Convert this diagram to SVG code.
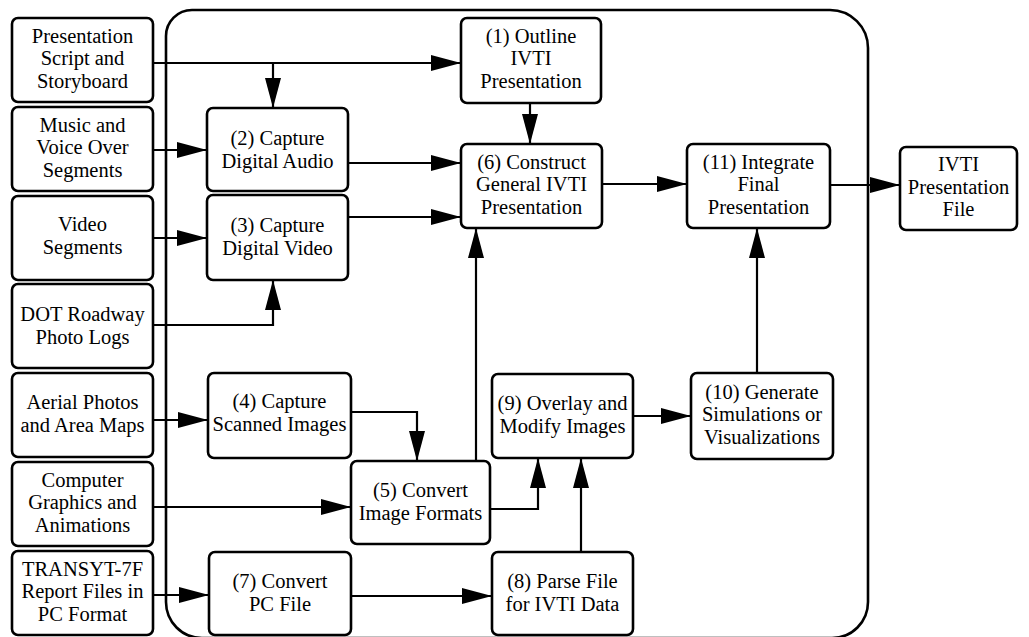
<svg xmlns="http://www.w3.org/2000/svg" width="1029" height="637" viewBox="0 0 1029 637">
  <style>
    .box { fill: #fff; stroke: #000; stroke-width: 2.6; }
    .frame { fill: none; stroke: #000; stroke-width: 2.6; }
    .lbl { font-family: 'Times New Roman', 'Liberation Serif', 'DejaVu Serif', serif; font-size: 20.5px; fill: #000; text-anchor: middle; }
    .wire { fill: none; stroke: #000; stroke-width: 2.2; marker-end: url(#head); }
  </style>
  <defs>
    <marker id="head" markerUnits="userSpaceOnUse" markerWidth="30" markerHeight="16" refX="30" refY="8" orient="auto">
      <path d="M0,0 L30,8 L0,16 Z" fill="#000"/>
    </marker>
  </defs>
  <rect width="1029" height="637" fill="#fff"/>

  <!-- process boundary -->
  <path class="frame" d="M192,10 H830 A38,38 0 0 1 868,48 V602 A36,36 0 0 1 832,638 H202 A36,36 0 0 1 166,602 V36 A26,26 0 0 1 192,10 Z"/>

  <!-- connectors -->
  <g id="connectors">
    <path class="wire" d="M153,63 H461"/>
    <path class="wire" d="M273,63 V108"/>
    <path class="wire" d="M153,150 H207"/>
    <path class="wire" d="M348,163 H461"/>
    <path class="wire" d="M153,238 H207"/>
    <path class="wire" d="M348,217 H461"/>
    <path class="wire" d="M153,325 H273 V280"/>
    <path class="wire" d="M530,103 V144"/>
    <path class="wire" d="M602,184 H687"/>
    <path class="wire" d="M830,185 H900"/>
    <path class="wire" d="M476,461 V228"/>
    <path class="wire" d="M153,420 H208"/>
    <path class="wire" d="M351,412 H417 V461"/>
    <path class="wire" d="M153,507 H351"/>
    <path class="wire" d="M490,509 H538 V458"/>
    <path class="wire" d="M153,595 H209"/>
    <path class="wire" d="M351,596 H492"/>
    <path class="wire" d="M581,552 V458"/>
    <path class="wire" d="M633,416 H691"/>
    <path class="wire" d="M757,373 V228"/>
  </g>

  <!-- source inputs -->
  <g id="src-script">
    <rect class="box" x="12" y="18" width="141" height="84" rx="6"/>
    <text class="lbl"><tspan x="82.5" y="42.5">Presentation</tspan><tspan x="82.5" y="65">Script and</tspan><tspan x="82.5" y="87.5">Storyboard</tspan></text>
  </g>
  <g id="src-music">
    <rect class="box" x="12" y="107" width="141" height="84" rx="6"/>
    <text class="lbl"><tspan x="82.5" y="131.5">Music and</tspan><tspan x="82.5" y="154">Voice Over</tspan><tspan x="82.5" y="176.5">Segments</tspan></text>
  </g>
  <g id="src-video">
    <rect class="box" x="12" y="196" width="141" height="84" rx="6"/>
    <text class="lbl"><tspan x="82.5" y="231">Video</tspan><tspan x="82.5" y="254">Segments</tspan></text>
  </g>
  <g id="src-photologs">
    <rect class="box" x="12" y="284" width="141" height="84" rx="6"/>
    <text class="lbl"><tspan x="82.5" y="321">DOT Roadway</tspan><tspan x="82.5" y="344">Photo Logs</tspan></text>
  </g>
  <g id="src-aerial">
    <rect class="box" x="12" y="373" width="141" height="84" rx="6"/>
    <text class="lbl"><tspan x="82.5" y="409">Aerial Photos</tspan><tspan x="82.5" y="432">and Area Maps</tspan></text>
  </g>
  <g id="src-graphics">
    <rect class="box" x="12" y="462" width="141" height="84" rx="6"/>
    <text class="lbl"><tspan x="82.5" y="486.5">Computer</tspan><tspan x="82.5" y="509">Graphics and</tspan><tspan x="82.5" y="531.5">Animations</tspan></text>
  </g>
  <g id="src-transyt">
    <rect class="box" x="12" y="551" width="141" height="84" rx="6"/>
    <text class="lbl"><tspan x="82.5" y="575.5">TRANSYT-7F</tspan><tspan x="82.5" y="598">Report Files in</tspan><tspan x="82.5" y="620.5">PC Format</tspan></text>
  </g>

  <!-- process steps -->
  <g id="step1">
    <rect class="box" x="461" y="18" width="140" height="85" rx="6"/>
    <text class="lbl"><tspan x="531" y="42.5">(1) Outline</tspan><tspan x="531" y="65">IVTI</tspan><tspan x="531" y="87.5">Presentation</tspan></text>
  </g>
  <g id="step2">
    <rect class="box" x="207" y="108" width="141" height="83" rx="6"/>
    <text class="lbl"><tspan x="277.5" y="145">(2) Capture</tspan><tspan x="277.5" y="168">Digital Audio</tspan></text>
  </g>
  <g id="step3">
    <rect class="box" x="207" y="195" width="141" height="85" rx="6"/>
    <text class="lbl"><tspan x="277.5" y="232">(3) Capture</tspan><tspan x="277.5" y="255">Digital Video</tspan></text>
  </g>
  <g id="step4">
    <rect class="box" x="208" y="373" width="143" height="85" rx="6"/>
    <text class="lbl"><tspan x="279.5" y="408">(4) Capture</tspan><tspan x="279.5" y="431">Scanned Images</tspan></text>
  </g>
  <g id="step5">
    <rect class="box" x="351" y="461" width="139" height="83" rx="6"/>
    <text class="lbl"><tspan x="420.5" y="497">(5) Convert</tspan><tspan x="420.5" y="520">Image Formats</tspan></text>
  </g>
  <g id="step6">
    <rect class="box" x="461" y="144" width="141" height="84" rx="6"/>
    <text class="lbl"><tspan x="531.5" y="168.5">(6) Construct</tspan><tspan x="531.5" y="191">General IVTI</tspan><tspan x="531.5" y="213.5">Presentation</tspan></text>
  </g>
  <g id="step7">
    <rect class="box" x="209" y="552" width="142" height="83" rx="6"/>
    <text class="lbl"><tspan x="280" y="588">(7) Convert</tspan><tspan x="280" y="611">PC File</tspan></text>
  </g>
  <g id="step8">
    <rect class="box" x="492" y="552" width="141" height="83" rx="6"/>
    <text class="lbl"><tspan x="562.5" y="588">(8) Parse File</tspan><tspan x="562.5" y="611">for IVTI Data</tspan></text>
  </g>
  <g id="step9">
    <rect class="box" x="492" y="374" width="141" height="84" rx="6"/>
    <text class="lbl"><tspan x="562.5" y="410">(9) Overlay and</tspan><tspan x="562.5" y="433">Modify Images</tspan></text>
  </g>
  <g id="step10">
    <rect class="box" x="691" y="373" width="142" height="86" rx="6"/>
    <text class="lbl"><tspan x="762" y="398.5">(10) Generate</tspan><tspan x="762" y="421">Simulations or</tspan><tspan x="762" y="443.5">Visualizations</tspan></text>
  </g>
  <g id="step11">
    <rect class="box" x="687" y="144" width="143" height="84" rx="6"/>
    <text class="lbl"><tspan x="758.5" y="168.5">(11) Integrate</tspan><tspan x="758.5" y="191">Final</tspan><tspan x="758.5" y="213.5">Presentation</tspan></text>
  </g>

  <!-- output -->
  <g id="output-file">
    <rect class="box" x="900" y="147" width="117" height="83" rx="6"/>
    <text class="lbl"><tspan x="958.5" y="171">IVTI</tspan><tspan x="958.5" y="193.5">Presentation</tspan><tspan x="958.5" y="216">File</tspan></text>
  </g>
</svg>
